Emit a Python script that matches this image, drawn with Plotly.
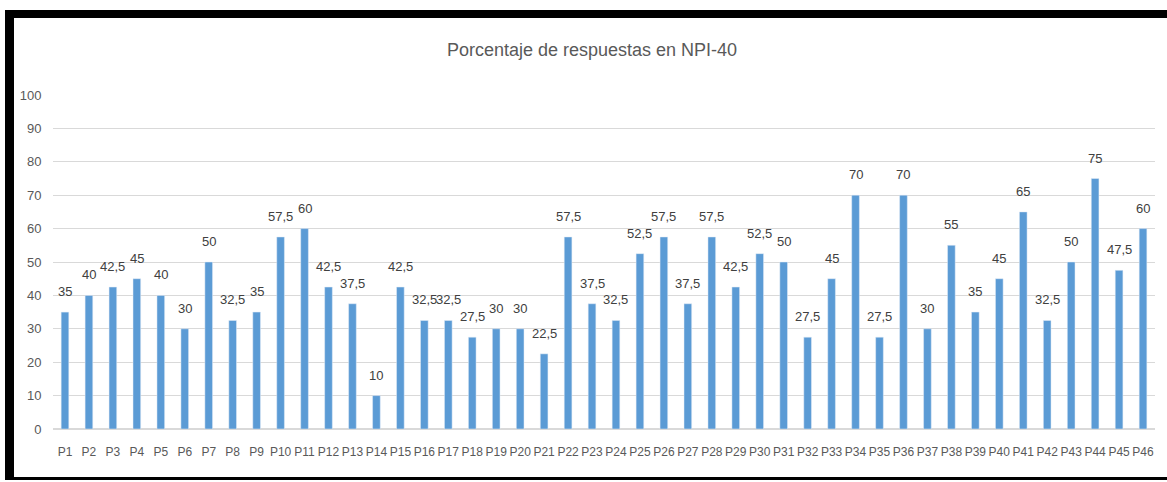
import plotly.graph_objects as go

categories = [f"P{i}" for i in range(1, 47)]
values = [35, 40, 42.5, 45, 40, 30, 50, 32.5, 35, 57.5, 60, 42.5, 37.5, 10, 42.5,
          32.5, 32.5, 27.5, 30, 30, 22.5, 57.5, 37.5, 32.5, 52.5, 57.5, 37.5, 57.5,
          42.5, 52.5, 50, 27.5, 45, 70, 27.5, 70, 30, 55, 35, 45, 65, 32.5, 50, 75,
          47.5, 60]
labels = [f"{v:g}".replace(".", ",") for v in values]
title_text = "Porcentaje de respuestas en NPI-40"

W, H = 1167, 482
L, R, T, B = 53, 1155, 95, 429
FONT = "Liberation Sans, Arial, sans-serif"

def px(x):
    return (x - L) / (R - L)

def py(y):
    return (B - y) / (B - T)

fig = go.Figure(go.Bar(
    x=categories, y=values, marker_color="#5b9bd5", width=0.32,
    hoverinfo="x+y",
))

for c, v, t in zip(categories, values, labels):
    fig.add_annotation(x=c, y=v, text=t, showarrow=False, yanchor="bottom",
                       yshift=11, font=dict(family=FONT, size=13, color="#404040"))

shapes = [
    dict(type="rect", xref="paper", yref="paper", x0=px(5), x1=px(1167), y0=py(18), y1=py(10),
         fillcolor="black", line=dict(width=0), layer="above"),
    dict(type="rect", xref="paper", yref="paper", x0=px(5), x1=px(14), y0=py(480), y1=py(10),
         fillcolor="black", line=dict(width=0), layer="above"),
    dict(type="rect", xref="paper", yref="paper", x0=px(5), x1=px(1167), y0=py(480), y1=py(477),
         fillcolor="black", line=dict(width=0), layer="above"),
]

fig.update_layout(
    width=W, height=H,
    margin=dict(l=L, r=W - R, t=T, b=H - B, pad=0, autoexpand=False),
    paper_bgcolor="white", plot_bgcolor="white",
    shapes=shapes,
    showlegend=False,
    title=dict(text=title_text, x=px(592), xref="paper", xanchor="center",
               y=1 - 50 / H, yref="container", yanchor="middle",
               font=dict(family=FONT, size=18, color="#595959")),
    xaxis=dict(type="category", range=[-0.5, 45.5], showgrid=False, automargin=False,
               showline=True, linecolor="#d9d9d9", linewidth=1, tickangle=0,
               ticks="outside", ticklen=12, tickcolor="rgba(0,0,0,0)",
               tickfont=dict(family=FONT, size=12, color="#595959")),
    yaxis=dict(range=[0, 100], dtick=10, showgrid=True, gridcolor="#d9d9d9", automargin=False,
               gridwidth=1, zeroline=True, zerolinecolor="#d9d9d9", showline=False,
               ticks="outside", ticklen=8, tickcolor="rgba(0,0,0,0)",
               tickfont=dict(family=FONT, size=13, color="#595959")),
)

fig.write_html("out.html", config={"displayModeBar": False},
               post_script="document.body.style.margin='0px';")
